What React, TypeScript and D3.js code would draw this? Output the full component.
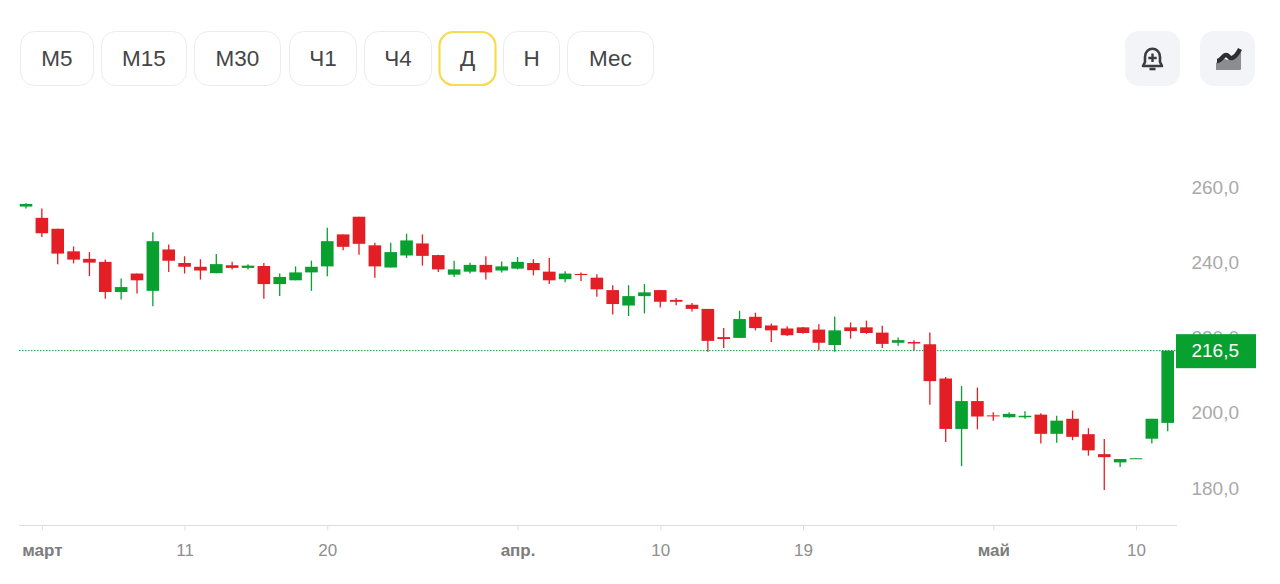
import React, { useRef, useEffect } from 'react';
import * as d3 from 'd3';

const opens = [
  254.8, 251.8, 248.9, 242.9, 240.9, 240.1, 232.1, 237, 232.4, 243.4, 239.8, 238.8, 237.1, 239.2, 238.5, 239, 234.2, 235.2, 237.3,
  238.9, 247.4, 252.1, 244.5, 238.6, 241.8, 245, 241.9, 236.7, 237.5, 239.3, 237.8, 238.3, 239.8, 237.5, 235.5, 236.9, 235.9,
  232.6, 228.5, 231, 232.6, 230, 228.7, 227.6, 220.1, 219.9, 225.5, 223.2, 222.4, 222.7, 222.1, 218, 222.7, 222.7, 221.3, 218.6,
  218.8, 218.2, 209.1, 195.7, 203.1, 199.3, 198.8, 198.8, 199.5, 194.4, 198.4, 194.3, 189, 186.8, 187.7, 193.1, 197.3,
];
const highs = [
  255.7, 254.3, 248.9, 244.2, 242.7, 240.7, 235.7, 237, 248, 244.7, 241.6, 240.8, 242.2, 240.1, 239.5, 239.8, 237, 238.9, 240.4,
  249.2, 247.4, 252.1, 245.2, 245.2, 247.6, 247.4, 242, 240.4, 239.9, 241.6, 240.2, 241.4, 240.8, 241.1, 237.6, 237.3, 236.8,
  233.9, 233.9, 234.2, 232.6, 230.5, 229.2, 227.6, 222.5, 227.1, 226.6, 223.7, 223, 222.8, 223.5, 225.6, 224, 224.5, 223.1, 220,
  219.3, 221.3, 209.5, 207.1, 206.7, 200.1, 200.1, 200.4, 199.9, 199.2, 200.6, 195.9, 193, 187.7, 187.9, 198.4, 216.5,
];
const lows = [
  254.3, 246.7, 239.5, 239.7, 236.3, 230.3, 230.1, 231.7, 228.3, 237.4, 237, 235.4, 237.1, 238.1, 238.1, 230.3, 231, 235.2, 232.4,
  236.3, 243.2, 242, 235.9, 238.6, 241.1, 239.1, 237.4, 236.1, 237, 235.4, 237.3, 238.1, 236.5, 234.2, 234.7, 235, 230.8,
  226.1, 225.7, 226.4, 228, 228.6, 226.9, 216.2, 217.2, 219.9, 221.9, 218.8, 220.4, 221, 216.6, 216.2, 219.7, 221, 217.2, 217.8,
  216.6, 202.1, 192.2, 185.8, 195.6, 197.9, 198.7, 198.4, 191.8, 192, 192.7, 188.6, 179.5, 185.6, 187.7, 191.8, 195.1,
];
const closes = [
  255.5, 247.7, 242.3, 240.7, 239.9, 232.1, 233.4, 235.2, 245.6, 240.4, 238.8, 237.8, 239.5, 238.5, 239.1, 234.2, 236.1, 237.3, 238.8,
  245.6, 244.1, 244.9, 238.9, 242.7, 245.8, 241.7, 238.1, 238.1, 239.3, 237.3, 238.9, 240.1, 237.9, 235.2, 237, 236.6, 232.8,
  228.9, 231, 232, 229.5, 229.5, 227.6, 219.1, 219.6, 224.9, 222.5, 221.9, 220.6, 221.2, 218.6, 221.9, 221.7, 221.2, 218.3, 219.3,
  218.4, 208.4, 195.7, 203.1, 199, 199.1, 199.7, 199.2, 194.4, 197.9, 193.6, 190, 188.2, 187.7, 187.9, 198.4, 216.5,
];

const priceTicks = [180, 200, 220, 240, 260];
const lastPrice = 216.5;
const dateTickIndex = [1, 10, 19, 31, 40, 49, 61, 70];
const dateTickLabels = ['март', '11', '20', 'апр.', '10', '19', 'май', '10'];
const monthLabels = ['март', 'апр.', 'май'];

const buttonLabels = ['М5', 'М15', 'М30', 'Ч1', 'Ч4', 'Д', 'Н', 'Мес'];
const buttonLeft = [20, 101, 194, 289, 364, 439, 503, 567];
const buttonRight = [94, 187, 281, 357, 432, 496, 560, 654];
const activeButton = 'Д';

const RED = '#e31e24';
const GREEN = '#08a02f';
const FONT = '"Liberation Sans", Arial, sans-serif';

const App: React.FC = () => {
  const svgRef = useRef<SVGSVGElement>(null);

  useEffect(() => {
    if (!svgRef.current) return;

    const svg = d3.select(svgRef.current);
    svg.selectAll('*').remove();

    const x = d3.scaleLinear().domain([0, opens.length - 1]).range([26, 1167.7]);
    const y = d3.scaleLinear().domain([180, 260]).range([488, 187]);
    const bodyWidth = 12.6;

    // period buttons
    const buttons = svg.append('g').attr('font-family', FONT);
    buttonLabels.forEach((label, i) => {
      const active = label === activeButton;
      buttons.append('rect')
        .attr('x', buttonLeft[i] + 0.5)
        .attr('y', active ? 32 : 31.5)
        .attr('width', buttonRight[i] - buttonLeft[i] - 1)
        .attr('height', active ? 53 : 54)
        .attr('rx', 14)
        .attr('fill', '#fff')
        .attr('stroke', active ? '#f7dc4f' : '#ececec')
        .attr('stroke-width', active ? 2.2 : 1);
      buttons.append('text')
        .attr('x', (buttonLeft[i] + buttonRight[i]) / 2)
        .attr('y', 66)
        .attr('text-anchor', 'middle')
        .attr('font-size', 22.5)
        .attr('fill', '#454545')
        .text(label);
    });

    // icon buttons
    [1125, 1200].forEach(left => {
      svg.append('rect')
        .attr('x', left).attr('y', 31)
        .attr('width', 55).attr('height', 55)
        .attr('rx', 14)
        .attr('fill', '#f3f4f8');
    });
    const bell = svg.append('g').attr('fill', 'none').attr('stroke', '#3c3c3e');
    bell.append('path')
      .attr('stroke-width', 2.6)
      .attr('stroke-linejoin', 'round')
      .attr('d', 'M1143 66 L1145 62 L1145 57 C1145 46 1160 46 1160 57 L1160 62 L1162 66 Z');
    bell.append('path').attr('stroke-width', 2.4).attr('d', 'M1152.5 53.5 V62 M1148.3 58 H1156.7');
    bell.append('path').attr('stroke-width', 2.6).attr('d', 'M1149.5 69 H1155.5');

    svg.append('path')
      .attr('fill', '#8d8d90')
      .attr('d', 'M1216 63 L1222 58 L1228 60 L1241 50 L1241 69 C1241 70 1240 70 1239 70 L1216 70 Z');
    svg.append('path')
      .attr('fill', 'none')
      .attr('stroke', '#2e2e30')
      .attr('stroke-width', 4.4)
      .attr('stroke-linejoin', 'round')
      .attr('d', 'M1217 61 C1221 61 1223 55 1226 55 C1229 55 1229 59 1232 58 C1236 57 1238 53 1240 49');

    // price axis, the 220 label stays under the last price box
    svg.append('g')
      .selectAll('text')
      .data(priceTicks)
      .enter().append('text')
      .attr('x', 1239)
      .attr('y', d => y(d) + 6.5)
      .attr('text-anchor', 'end')
      .attr('font-family', FONT)
      .attr('font-size', 19)
      .attr('fill', '#a9a9a9')
      .text(d => d3.format('.1f')(d).replace('.', ','));

    // date axis
    const axis = d3.axisBottom(x)
      .tickValues(dateTickIndex)
      .tickSize(5)
      .tickPadding(13)
      .tickFormat((_, i) => dateTickLabels[i]);
    const axisG = svg.append('g')
      .attr('transform', 'translate(0,525.5)')
      .call(axis);
    axisG.select('.domain').remove();
    axisG.append('line')
      .attr('x1', 19).attr('x2', 1177)
      .attr('stroke', '#dedede');
    axisG.selectAll('.tick line').attr('stroke', '#dedede');
    axisG.selectAll<SVGTextElement, number>('.tick text')
      .attr('font-family', FONT)
      .attr('font-size', 17)
      .attr('fill', (_, i) => monthLabels.includes(dateTickLabels[i]) ? '#7d7d7d' : '#8f8f8f')
      .attr('font-weight', (_, i) => monthLabels.includes(dateTickLabels[i]) ? 700 : 400);

    // last price line
    svg.append('line')
      .attr('x1', 19).attr('x2', 1177)
      .attr('y1', y(lastPrice)).attr('y2', y(lastPrice))
      .attr('stroke', GREEN)
      .attr('stroke-width', 1)
      .attr('stroke-dasharray', '1.5 1.5');

    // candles
    const candles = svg.append('g')
      .selectAll('g')
      .data(opens.map((_, i) => i))
      .enter().append('g')
      .attr('fill', i => closes[i] >= opens[i] ? GREEN : RED)
      .attr('stroke', i => closes[i] >= opens[i] ? GREEN : RED);
    candles.append('line')
      .attr('x1', i => x(i)).attr('x2', i => x(i))
      .attr('y1', i => y(highs[i])).attr('y2', i => y(lows[i]))
      .attr('stroke-width', 1.3);
    candles.append('rect')
      .attr('x', i => x(i) - bodyWidth / 2)
      .attr('width', bodyWidth)
      .attr('y', i => y(Math.max(opens[i], closes[i])))
      .attr('height', i => Math.max(1, Math.abs(y(opens[i]) - y(closes[i]))))
      .attr('stroke', 'none');

    // last price box
    svg.append('rect')
      .attr('x', 1176).attr('y', y(lastPrice) - 16.5)
      .attr('width', 80).attr('height', 34)
      .attr('fill', GREEN);
    svg.append('text')
      .attr('x', 1239)
      .attr('y', y(lastPrice) + 6.5)
      .attr('text-anchor', 'end')
      .attr('font-family', FONT)
      .attr('font-size', 19)
      .attr('fill', '#fff')
      .text(d3.format('.1f')(lastPrice).replace('.', ','));
  }, []);

  return (
    <div style={{ position: 'absolute', left: 0, top: 0 }}>
      <svg ref={svgRef} width={1280} height={584} style={{ display: 'block', background: '#fff' }} />
    </div>
  );
};

export default App;
